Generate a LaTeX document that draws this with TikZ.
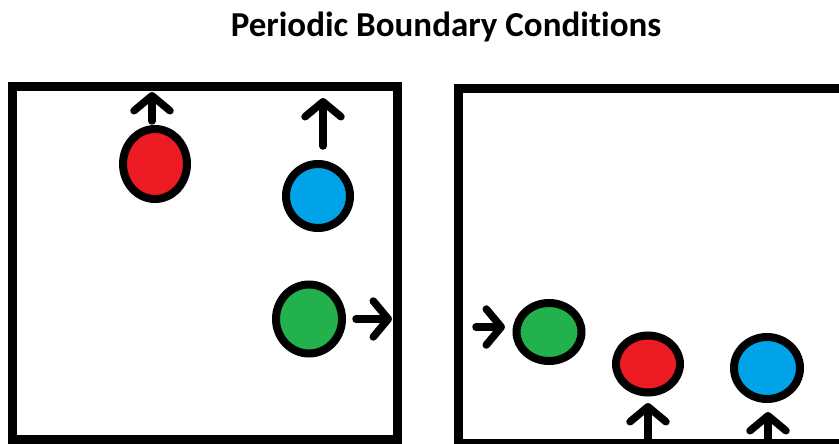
\documentclass[tikz,border=0pt]{standalone}
\usepackage{fontspec}
\setmainfont{Carlito}[Ligatures=CommonOff]
\usepackage{tikz}
\usetikzlibrary{arrows.meta,shapes.geometric}
\definecolor{PaintRed}{HTML}{ED1C24}
\definecolor{PaintBlue}{HTML}{00A2E8}
\definecolor{PaintGreen}{HTML}{22B14C}

\begin{document}
\begin{tikzpicture}[x=1pt,y=-1pt,
cell/.style={draw=black,line width=9pt},
atom/.style={ellipse,draw=black,line width=8pt,inner sep=0pt},
mov/.style={line width=7.5pt,line cap=round,-{Straight Barb[length=15pt,width=36pt,line width=7.5pt,line cap=round,line join=round]}}]
\clip (0,0) rectangle (839,444);
\fill[white] (0,0) rectangle (839,444);
\node[font=\bfseries\fontsize{35}{42}\selectfont] (title) at (446,27) {Periodic Boundary Conditions};
% before: left cell
\draw[cell] (12,86.5) rectangle (397.5,439.5);
\node[atom,fill=PaintRed,minimum width=64pt,minimum height=70pt] (redL) at (155,164) {};
\node[atom,fill=PaintBlue,minimum width=64pt,minimum height=64pt] (blueL) at (318,196) {};
\node[atom,fill=PaintGreen,minimum width=66pt,minimum height=69pt] (greenL) at (309,319) {};
% after: right cell
\draw[cell] (458.5,88.5) rectangle (900,443);
\node[atom,fill=PaintGreen,minimum width=65pt,minimum height=58pt] (greenR) at (549,332) {};
\node[atom,fill=PaintRed,minimum width=64pt,minimum height=57pt] (redR) at (648,364) {};
\node[atom,fill=PaintBlue,minimum width=66pt,minimum height=62pt] (blueR) at (767,368) {};
% motion
\coordinate (rLa) at (152,121); \coordinate (rLb) at (152,92);
\coordinate (bLa) at (323,146); \coordinate (bLb) at (323,98);
\coordinate (gLa) at (356,319); \coordinate (gLb) at (392,319);
\coordinate (gRa) at (476,327); \coordinate (gRb) at (505,327);
\coordinate (rRa) at (648,440); \coordinate (rRb) at (648,403);
\coordinate (bRa) at (768,440); \coordinate (bRb) at (768,412);
\foreach \u/\v in {rLa/rLb,bLa/bLb,gLa/gLb,gRa/gRb,rRa/rRb,bRa/bRb}{\draw[mov] (\u)--(\v);}
\end{tikzpicture}
\end{document}
